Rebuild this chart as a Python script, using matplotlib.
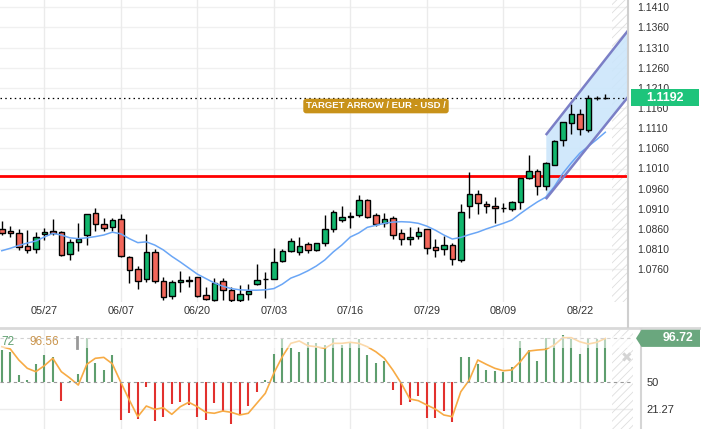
import numpy as np
import pandas as pd
import matplotlib
matplotlib.use('Agg')
import matplotlib.pyplot as plt
import matplotlib.transforms as mtransforms
from matplotlib.patches import Rectangle, Polygon
from matplotlib.lines import Line2D

plt.rcParams['font.family'] = ['Liberation Sans', 'DejaVu Sans']
plt.rcParams['hatch.linewidth'] = 0.6

# EUR/USD daily candles, business days from 2024-05-20
opens = [1.0859, 1.0854, 1.0849, 1.0817, 1.0810, 1.0847, 1.0854, 1.0852, 1.0797, 1.0827,
         1.0844, 1.0899, 1.0873, 1.0864, 1.0884, 1.0791, 1.0760, 1.0735, 1.0802, 1.0730,
         1.0694, 1.0728, 1.0733, 1.0740, 1.0695, 1.0684, 1.0731, 1.0708, 1.0684, 1.0698,
         1.0723, 1.0735, 1.0736, 1.0780, 1.0806, 1.0802, 1.0822, 1.0807, 1.0824, 1.0859,
         1.0881, 1.0890, 1.0894, 1.0932, 1.0895, 1.0874, 1.0886, 1.0849, 1.0834, 1.0842,
         1.0860, 1.0814, 1.0810, 1.0819, 1.0782, 1.0917, 1.0946, 1.0921, 1.0916, 1.0912,
         1.0909, 1.0926, 1.0986, 1.1005, 1.0967, 1.1019, 1.1081, 1.1122, 1.1145, 1.1106,
         1.1184, 1.1184]
highs = [1.0880, 1.0867, 1.0860, 1.0857, 1.0852, 1.0862, 1.0885, 1.0854, 1.0836, 1.0876,
         1.0898, 1.0911, 1.0886, 1.0886, 1.0897, 1.0792, 1.0768, 1.0848, 1.0811, 1.0740,
         1.0733, 1.0756, 1.0744, 1.0742, 1.0715, 1.0738, 1.0739, 1.0716, 1.0721, 1.0723,
         1.0772, 1.0752, 1.0813, 1.0810, 1.0838, 1.0839, 1.0828, 1.0825, 1.0895, 1.0906,
         1.0916, 1.0901, 1.0945, 1.0934, 1.0899, 1.0900, 1.0892, 1.0860, 1.0864, 1.0864,
         1.0861, 1.0834, 1.0843, 1.0824, 1.0922, 1.1002, 1.0957, 1.0930, 1.0939, 1.0925,
         1.0930, 1.0987, 1.1044, 1.1008, 1.1027, 1.1081, 1.1125, 1.1169, 1.1158, 1.1192,
         1.1191, 1.1195]
lows = [1.0845, 1.0840, 1.0808, 1.0800, 1.0800, 1.0833, 1.0845, 1.0793, 1.0782, 1.0805,
        1.0819, 1.0855, 1.0855, 1.0855, 1.0790, 1.0727, 1.0712, 1.0728, 1.0725, 1.0684,
        1.0685, 1.0703, 1.0715, 1.0692, 1.0684, 1.0681, 1.0684, 1.0679, 1.0679, 1.0684,
        1.0721, 1.0689, 1.0735, 1.0777, 1.0804, 1.0795, 1.0800, 1.0805, 1.0818, 1.0853,
        1.0877, 1.0863, 1.0890, 1.0886, 1.0868, 1.0866, 1.0834, 1.0819, 1.0820, 1.0834,
        1.0798, 1.0791, 1.0795, 1.0770, 1.0779, 1.0886, 1.0897, 1.0899, 1.0876, 1.0902,
        1.0905, 1.0910, 1.0984, 1.0944, 1.0957, 1.1018, 1.1066, 1.1095, 1.1093, 1.1100,
        1.1180, 1.1182]
closes = [1.0849, 1.0849, 1.0814, 1.0807, 1.0839, 1.0852, 1.0849, 1.0795, 1.0827, 1.0834,
          1.0896, 1.0872, 1.0862, 1.0882, 1.0794, 1.0757, 1.0732, 1.0802, 1.0731, 1.0692,
          1.0728, 1.0733, 1.0732, 1.0693, 1.0685, 1.0725, 1.0708, 1.0684, 1.0699, 1.0706,
          1.0733, 1.0735, 1.0779, 1.0805, 1.0830, 1.0817, 1.0808, 1.0824, 1.0859, 1.0901,
          1.0889, 1.0891, 1.0932, 1.0889, 1.0872, 1.0884, 1.0845, 1.0834, 1.0839, 1.0852,
          1.0812, 1.0809, 1.0820, 1.0785, 1.0901, 1.0946, 1.0924, 1.0916, 1.0911, 1.0912,
          1.0926, 1.0986, 1.1005, 1.0967, 1.1023, 1.1079, 1.1125, 1.1145, 1.1107, 1.1184,
          1.1184, 1.1186]

# moving average (blue line)
ma_line = [1.0806, 1.0812, 1.0819, 1.0825, 1.0830, 1.0840, 1.0849, 1.0845, 1.0838, 1.0836,
           1.0838, 1.0841, 1.0845, 1.0852, 1.0848, 1.0836, 1.0826, 1.0828, 1.0820, 1.0808,
           1.0792, 1.0778, 1.0763, 1.0748, 1.0737, 1.0726, 1.0718, 1.0712, 1.0709, 1.0708,
           1.0708, 1.0709, 1.0712, 1.0723, 1.0738, 1.0746, 1.0756, 1.0768, 1.0783, 1.0803,
           1.0820, 1.0840, 1.0850, 1.0864, 1.0869, 1.0874, 1.0877, 1.0878, 1.0877, 1.0874,
           1.0867, 1.0857, 1.0845, 1.0835, 1.0839, 1.0846, 1.0852, 1.0860, 1.0867, 1.0874,
           1.0882, 1.0898, 1.0913, 1.0927, 1.0939, 1.0965, 1.0998, 1.1024, 1.1048, 1.1065,
           1.1082, 1.1100]

# oscillator panel: histogram around 50 and orange signal line
osc_bars = [84.3, 81.9, 57.8, 52.4, 69.1, 79.0, 76.5, 30.1, 51.0, 58.5,
            96.7, 70.2, 63.0, 79.0, 10.0, 17.1, 10.7, 44.7, 8.9, 12.8,
            26.6, 28.8, 25.9, 12.8, 10.0, 27.7, 19.5, 5.7, 15.3, 25.2,
            40.0, 52.4, 79.7, 96.7, 86.7, 81.9, 92.5, 91.4, 89.3, 96.7,
            89.6, 91.4, 96.0, 79.0, 70.2, 72.6, 41.8, 25.9, 28.8, 35.8,
            11.8, 11.8, 19.5, 8.2, 76.5, 76.5, 69.1, 63.0, 62.0, 61.3,
            66.6, 93.8, 84.3, 72.6, 96.7, 96.7, 100.2, 96.0, 79.7, 96.7,
            96.0, 96.72]
osc_line = [87.8, 85.4, 73.7, 64.9, 61.3, 67.6, 75.5, 61.3, 54.6, 47.1,
            69.1, 75.5, 76.5, 69.7, 50.0, 31.2, 13.5, 24.8, 21.3, 23.0,
            16.0, 24.1, 28.8, 24.1, 18.1, 17.1, 19.5, 18.1, 15.3, 17.1,
            27.7, 38.3, 59.6, 77.2, 91.4, 93.9, 88.9, 87.8, 86.1, 91.4,
            91.4, 92.5, 91.4, 87.8, 82.5, 75.5, 63.1, 48.9, 32.3, 30.5,
            25.9, 21.6, 15.3, 13.5, 40.0, 52.4, 73.7, 69.1, 64.9, 62.3,
            63.1, 71.9, 83.2, 84.3, 85.0, 89.6, 97.4, 97.4, 93.1, 90.7,
            92.5, 96.56]

date_labels = ['05/27', '06/07', '06/20', '07/03', '07/16', '07/29', '08/09', '08/22']
price_ticks = [1.0760, 1.0810, 1.0860, 1.0910, 1.0960, 1.1010, 1.1060,
               1.1110, 1.1160, 1.1210, 1.1260, 1.1310, 1.1360, 1.1410]
support_level = 1.0992
chan_idx = [64, 74]
chan_upper = [1.1093, 1.1361]
chan_lower = [1.0934, 1.1196]
last_price_text = '1.1192'
osc_mid = 50
osc_low = 21.27
osc_last_text = '96.72'
signal_last_text = '96.56'
target_text = 'TARGET ARROW / EUR - USD /'

# ---- layout (pixels of the 701x429 picture)
W, H = 701, 429
def fx(px):
    return px / W
def fy(py):
    return 1 - py / H

bar_px, first_px = 8.5, 1.8
px_per_price = 20.15 / 0.005

dates = pd.bdate_range('2024-05-20', periods=len(closes))
day_str = list(dates.strftime('%m/%d'))
tick_pos = [day_str.index(d) for d in date_labels]

o = np.array(opens); h = np.array(highs); l = np.array(lows); c = np.array(closes)
x = np.arange(len(c))

fig = plt.figure(figsize=(7.01, 4.29), dpi=100)
ax = fig.add_axes([0, fy(302), fx(627), 302 / H])
ax2 = fig.add_axes([0, 0, fx(633), (H - 329.5) / H])

# ---- main price chart
ax.set_xlim(-first_px / bar_px, (627 - first_px) / bar_px)
ax.set_ylim(1.1410 - (302 - 7.3) / px_per_price, 1.1410 + 7.3 / px_per_price)

for p in price_ticks:
    ax.axhline(p, color='#f0f0f0', lw=1, zorder=0)
for t in tick_pos:
    ax.axvline(t, color='#ebebeb', lw=1, zorder=0)

ax.axvspan(71.75, 80, facecolor='none', edgecolor='#dedede', hatch='////', lw=0, zorder=0.5)

ci = np.linspace(chan_idx[0], chan_idx[1], 20)
up_c = np.interp(ci, chan_idx, chan_upper)
lo_c = np.interp(ci, chan_idx, chan_lower)
ax.fill_between(ci, lo_c, up_c, color='#cce6fb', alpha=0.9, lw=0, zorder=1)

ax.axhline(support_level, color='#ff0000', lw=2, zorder=2)
ax.axhline(closes[-1], color='black', lw=0.9, ls=(0, (1.2, 2.6)), zorder=2)

is_up = c >= o
body_col = np.where(is_up, '#12b76e', '#f2665a')
ax.vlines(x, l, h, color='black', lw=1, zorder=3)
ax.bar(x, np.maximum(np.abs(c - o), 0.00004), bottom=np.minimum(o, c), width=0.64,
       color=body_col, edgecolor='black', linewidth=1, zorder=4)

ax.plot(x, ma_line, color='#6aa6f6', lw=1.1, zorder=5)
ax.plot(chan_idx, chan_upper, color='#7b7fc6', lw=1.8, zorder=6, solid_capstyle='butt')
ax.plot(chan_idx, chan_lower, color='#7b7fc6', lw=1.8, zorder=6, solid_capstyle='butt')

ax.text(376 / 627, 1 - 106 / 302, target_text, transform=ax.transAxes, ha='center', va='center',
        color='white', fontsize=6.8, fontweight='bold', zorder=8,
        bbox=dict(boxstyle='round,pad=0.3,rounding_size=0.3', fc='#c8921a', ec='none'))

ax.set_xticks(tick_pos)
ax.set_xticklabels(date_labels, fontsize=7.8, color='#333333')
ax.set_yticks(price_ticks)
ax.set_yticklabels([f'{p:.4f}' for p in price_ticks], fontsize=7.5, color='#333333')
ax.yaxis.tick_right()
ax.tick_params(axis='both', length=0)
ax.tick_params(axis='x', pad=3)
ax.tick_params(axis='y', pad=7.5)
for s in ax.spines.values():
    s.set_visible(False)

# last price tag
trans = mtransforms.blended_transform_factory(fig.transFigure, ax.transData)
tag_h = 17 / px_per_price
fig.add_artist(Rectangle((fx(631), closes[-1] - tag_h / 2), fx(699) - fx(631), tag_h,
                         transform=trans, fc='#1ec47b', ec='none', zorder=10))
fig.text(fx(665), closes[-1], last_price_text, transform=trans, ha='center', va='center',
         color='white', fontsize=9, fontweight='bold', zorder=11)

# ---- oscillator panel
ax2.set_xlim(-first_px / bar_px, (633 - first_px) / bar_px)
ax2.set_ylim(0.4, 106.1)
for t in tick_pos:
    ax2.axvline(t, color='#ebebeb', lw=1, zorder=0)
ax2.axhline(osc_low, color='#ececec', lw=1, zorder=0)
ax2.axvspan(71.75, 80, facecolor='none', edgecolor='#dedede', hatch='////', lw=0, zorder=0.5)

bars = np.array(osc_bars)
bar_col = np.where(bars >= osc_mid, '#5e9e6e', '#e2312e')
ax2.vlines(x, osc_mid, bars, colors=bar_col, lw=1.5, zorder=2)
ax2.plot(x, osc_line, color='#f7ab45', lw=1.2, zorder=2.5)
ax2.axhline(osc_mid, color='#9a9a9a', lw=0.8, ls=(0, (3, 3)), zorder=3)
ax2.axhline(osc_bars[-1], color='#9a9a9a', lw=0.8, ls=(0, (3, 3)), zorder=3)
ax2.axhspan(86, 99.5, color='white', alpha=0.55, lw=0, zorder=3.5)

ax2.set_xticks([])
ax2.set_yticks([osc_low, osc_mid])
ax2.set_yticklabels([f'{osc_low:.2f}', f'{osc_mid}'], fontsize=8, color='#333333')
ax2.yaxis.tick_right()
ax2.tick_params(axis='y', length=0, pad=10)
for s in ax2.spines.values():
    s.set_visible(False)

fig.text(fx(1), fy(342), osc_last_text.split('.')[1], color='#5e9e6e', fontsize=8.5,
         ha='left', va='center', zorder=12)
fig.text(fx(30), fy(342), signal_last_text, color='#c9944c', fontsize=8.5,
         ha='left', va='center', zorder=12)
fig.add_artist(Line2D([fx(77), fx(77)], [fy(337), fy(348)], color='#999999', lw=2))
fig.text(fx(627), fy(358), '\u2716', color='#d4d4d4', fontsize=10, ha='center', va='center')

trans2 = mtransforms.blended_transform_factory(fig.transFigure, ax2.transData)
v = osc_bars[-1]
hh = 8.5 * 106.5 / 99.5
fig.add_artist(Polygon([(fx(636), v), (fx(641.5), v + hh), (fx(700), v + hh),
                        (fx(700), v - hh), (fx(641.5), v - hh)], closed=True,
                       transform=trans2, fc='#6aa77e', ec='none', zorder=10))
fig.text(fx(678), v, osc_last_text, transform=trans2, ha='center', va='center',
         color='white', fontsize=8.8, fontweight='bold', zorder=11)

# separators
fig.add_artist(Line2D([0, 1], [fy(328), fy(328)], color='#d9d9d9', lw=2))
fig.add_artist(Line2D([fx(627.5), fx(627.5)], [fy(0), fy(327)], color='#cfcfcf', lw=1.5))
fig.add_artist(Line2D([fx(640.5), fx(640.5)], [fy(329), fy(429)], color='#d5d5d5', lw=1.5))

fig.savefig('out.png', dpi=100)
